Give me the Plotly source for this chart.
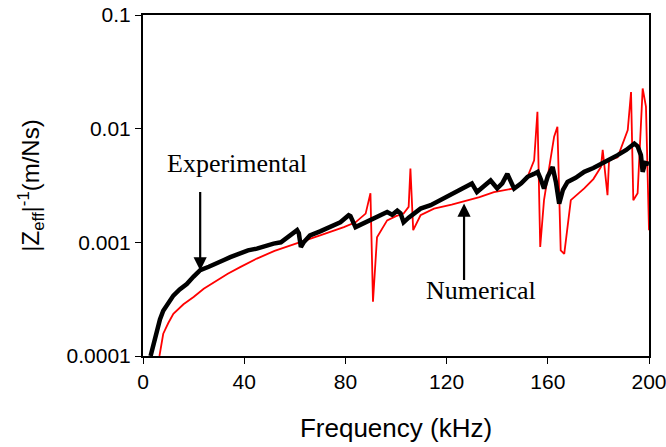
import plotly.graph_objects as go

# Experimental (black)
exp_f = [3.0, 4.2, 5.4, 6.7, 8.0, 10.0, 12.0, 14.5, 17.3, 20.0, 22.6, 26.0, 29.2, 32.0, 34.5, 38.0, 41.5, 45.0,
         48.0, 51.6, 54.5, 57.0, 59.5, 60.9, 61.6, 62.4, 63.5, 66.0, 70.0, 74.0, 78.0, 81.3, 82.0, 84.0,
         86.5, 89.9, 92.0, 94.0, 96.5, 98.5, 100.5, 101.8, 103.0, 105.0, 107.0, 109.7, 113.7, 117.5,
         121.6, 126.0, 130.0, 132.0, 134.5, 137.4, 140.0, 142.0, 144.0, 146.7, 149.5, 152.0, 154.5, 156.0,
         157.2, 158.5, 160.0, 161.9, 163.2, 164.5, 166.0, 167.8, 171.0, 174.4, 178.0, 181.0, 184.0, 187.6,
         191.0, 194.2, 195.5, 196.8, 197.5, 198.5, 200.0]
exp_v = [1.0e-4, 1.3e-4, 1.68e-4, 2.1e-4, 2.5e-4, 2.95e-4, 3.4e-4, 3.85e-4, 4.3e-4, 5.0e-4, 5.7e-4, 6.1e-4,
         6.5e-4, 7.0e-4, 7.4e-4, 8.0e-4, 8.5e-4, 8.8e-4, 9.3e-4, 9.75e-4, 1.0e-3, 1.1e-3, 1.2e-3, 1.28e-3,
         1.2e-3, 9.1e-4, 1.0e-3, 1.15e-3, 1.25e-3, 1.36e-3, 1.5e-3, 1.73e-3, 1.7e-3, 1.36e-3, 1.45e-3,
         1.56e-3, 1.65e-3, 1.75e-3, 1.85e-3, 1.75e-3, 1.9e-3, 1.8e-3, 1.5e-3, 1.65e-3, 1.8e-3, 1.98e-3,
         2.12e-3, 2.35e-3, 2.6e-3, 2.9e-3, 3.3e-3, 2.77e-3, 3.1e-3, 3.5e-3, 2.98e-3, 3.3e-3, 4.0e-3,
         2.97e-3, 3.3e-3, 3.77e-3, 4.0e-3, 4.17e-3, 3.6e-3, 2.97e-3, 3.8e-3, 4.6e-3, 3.4e-3, 2.19e-3,
         2.9e-3, 3.4e-3, 3.7e-3, 4.17e-3, 4.5e-3, 4.93e-3, 5.3e-3, 5.85e-3, 6.5e-3, 7.4e-3, 7.0e-3,
         5.85e-3, 4.17e-3, 5.0e-3, 4.9e-3]

# Numerical (red)
num_f = [6.5, 8.0, 10.0, 12.0, 16.0, 20.0, 24.0, 29.2, 33.5, 38.4, 45.0, 52.0, 60.9, 70.0, 79.4, 84.0, 88.0,
         89.9, 90.9, 92.5, 96.5, 100.0, 103.0, 105.0, 105.7, 106.8, 109.7, 115.0, 122.0, 128.2, 133.0,
         138.7, 146.7, 150.0, 152.0, 154.6, 155.9, 157.0, 158.5, 162.5, 163.8, 165.1, 166.5, 169.1, 174.4,
         178.0, 181.0, 181.7, 183.6, 184.2, 187.6, 191.6, 192.9, 193.8, 195.5, 197.5, 198.8, 200.0]
num_v = [1.0e-4, 1.57e-4, 1.95e-4, 2.35e-4, 2.85e-4, 3.3e-4, 3.9e-4, 4.6e-4, 5.3e-4, 6.05e-4, 7.2e-4, 8.4e-4,
         9.75e-4, 1.15e-3, 1.36e-3, 1.5e-3, 1.79e-3, 2.7e-3, 3.0e-4, 1.11e-3, 1.56e-3, 1.7e-3, 1.79e-3,
         2.05e-3, 4.45e-3, 1.28e-3, 1.73e-3, 1.98e-3, 2.15e-3, 2.35e-3, 2.5e-3, 2.77e-3, 2.98e-3, 3.3e-3,
         3.77e-3, 5.27e-3, 1.41e-2, 9.1e-4, 2.35e-3, 8.5e-3, 1.04e-2, 8.5e-4, 7.9e-4, 2.35e-3, 2.98e-3,
         3.6e-3, 4.6e-3, 6.5e-3, 2.6e-3, 5.27e-3, 5.6e-3, 9.7e-3, 2.1e-2, 2.35e-3, 2.7e-3, 2.26e-2,
         1.56e-2, 1.28e-3]

x_ticks = [0, 40, 80, 120, 160, 200]
y_ticks = [1e-4, 1e-3, 1e-2, 1e-1]
y_tick_labels = ["0.0001", "0.001", "0.01", "0.1"]

fig = go.Figure()
fig.add_trace(go.Scatter(x=num_f, y=num_v, mode="lines", line=dict(color="#ff0000", width=1.8),
                         showlegend=False))
fig.add_trace(go.Scatter(x=exp_f, y=exp_v, mode="lines", line=dict(color="#000000", width=4.5),
                         showlegend=False))

serif = "Liberation Serif, Times New Roman, serif"
sans = "Liberation Sans, Arial, sans-serif"

fig.update_layout(
    width=666, height=447,
    margin=dict(l=143, r=17, t=15, b=91),
    paper_bgcolor="white", plot_bgcolor="white",
    font=dict(family=sans, color="black"),
    xaxis=dict(range=[0, 200], tickvals=x_ticks, showgrid=False, zeroline=False, automargin=False,
               showline=True, linecolor="black", linewidth=2, mirror=True,
               ticks="outside", ticklen=6, tickwidth=1, tickcolor="black",
               ticklabeloverflow="allow",
               tickfont=dict(size=21, family=sans),
               title=dict(text="Frequency (kHz)", font=dict(size=26, family=sans), standoff=27)),
    yaxis=dict(type="log", range=[-4, -1], tickvals=y_ticks, ticktext=y_tick_labels,
               showgrid=False, zeroline=False, automargin=False,
               showline=True, linecolor="black", linewidth=2, mirror=True,
               ticks="outside", ticklen=6, tickwidth=1, tickcolor="black",
               tickfont=dict(size=21, family=sans),
               title=dict(text="|Z<sub>eff</sub>|<sup>-1</sup>(m/Ns)", font=dict(size=24, family=sans),
                          standoff=20)),
)

fig.add_annotation(x=22.6, y=-3.247, xref="x", yref="y", ax=0, ay=-80, text="",
                   showarrow=True, arrowhead=2, arrowsize=1.2, arrowwidth=2.2, arrowcolor="black")
fig.add_annotation(x=126.9, y=-2.659, xref="x", yref="y", ax=0, ay=78, text="",
                   showarrow=True, arrowhead=2, arrowsize=1.2, arrowwidth=2.2, arrowcolor="black")
fig.add_annotation(x=37.2, y=-2.304, xref="x", yref="y", text="Experimental", showarrow=False,
                   font=dict(family=serif, size=26, color="black"))
fig.add_annotation(x=133.5, y=-3.423, xref="x", yref="y", text="Numerical", showarrow=False,
                   font=dict(family=serif, size=26, color="black"))

fig.write_html("out.html", post_script="document.body.style.margin='0';")
